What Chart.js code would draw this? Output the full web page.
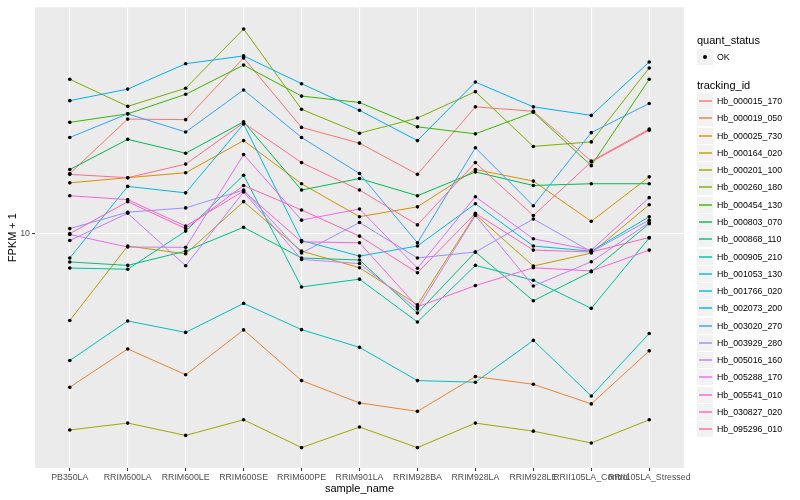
<!doctype html>
<html>
<head>
<meta charset="utf-8">
<title>FPKM + 1 / sample_name</title>
<script src="https://cdn.jsdelivr.net/npm/chart.js@4.4.0/dist/chart.umd.min.js"></script>
<style>
  body { margin: 0; background: #ffffff; }
  #wrap { position: relative; width: 800px; height: 500px; font-family: "Liberation Sans", Arial, Helvetica, sans-serif; }
  #legend { position: absolute; left: 0; top: 0; width: 800px; height: 500px; pointer-events: none; }
  .ttl { position: absolute; left: 697px; font-size: 11px; line-height: 14px; height: 14px; color: #000; white-space: nowrap; }
  .key { position: absolute; left: 697px; width: 16px; height: 16px; background: #F2F2F2; }
  .key i { position: absolute; left: 2px; width: 13px; top: 7px; height: 2px; opacity: 0.7; }
  .key b { position: absolute; left: 6px; top: 6px; width: 4px; height: 4px; border-radius: 50%; background: #000; }
  .lab { position: absolute; left: 717px; font-size: 8.8px; line-height: 10px; height: 10px; color: #000; white-space: nowrap; }
</style>
</head>
<body>
<div id="wrap">
  <canvas id="chart" width="800" height="500"></canvas>
  <div id="legend"></div>
</div>
<script>
// categories on the x axis
var sampleNames = ['PB350LA', 'RRIM600LA', 'RRIM600LE', 'RRIM600SE', 'RRIM600PE', 'RRIM901LA',
  'RRIM928BA', 'RRIM928LA', 'RRIM928LE', 'RRII105LA_Control', 'RRII105LA_Stressed'];

var trackingIds = ['Hb_000015_170', 'Hb_000019_050', 'Hb_000025_730', 'Hb_000164_020', 'Hb_000201_100',
  'Hb_000260_180', 'Hb_000454_130', 'Hb_000803_070', 'Hb_000868_110', 'Hb_000905_210',
  'Hb_001053_130', 'Hb_001766_020', 'Hb_002073_200', 'Hb_003020_270', 'Hb_003929_280',
  'Hb_005016_160', 'Hb_005288_170', 'Hb_005541_010', 'Hb_030827_020', 'Hb_095296_010'];

var quantStatus = ['OK'];
var yTickValues = [10];

// FPKM + 1, one array per tracking_id, in sampleNames order
var hb_000015_170 = [15.9, 24.2, 24.1, 38.8, 22.7, 20.1, 15.8, 26.6, 25.7, 17.5, 22.4];
var hb_000019_050 = [3.06, 4.11, 3.37, 4.76, 3.22, 2.71, 2.54, 3.32, 3.13, 2.69, 4.05];
var hb_000025_730 = [14.8, 15.4, 16.0, 20.5, 14.7, 11.4, 12.3, 16.4, 15.0, 11.0, 15.5];
var hb_000164_020 = [5.12, 9.09, 8.56, 12.8, 8.74, 7.69, 5.78, 11.6, 7.79, 8.61, 12.5];
var hb_000201_100 = [2.20, 2.32, 2.11, 2.38, 1.92, 2.25, 1.92, 2.32, 2.18, 1.99, 2.38];
var hb_000260_180 = [32.9, 26.7, 30.7, 48.5, 26.1, 21.7, 24.4, 29.9, 19.6, 20.3, 35.9];
var hb_000454_130 = [23.6, 25.2, 29.3, 36.7, 28.9, 27.5, 22.8, 21.6, 25.5, 16.9, 32.9];
var hb_000803_070 = [16.4, 20.7, 18.6, 23.7, 14.0, 15.3, 13.4, 16.1, 14.5, 14.7, 14.7];
var hb_000868_110 = [8.04, 7.83, 8.74, 10.5, 8.29, 8.16, 5.42, 8.68, 5.96, 7.46, 10.8];
var hb_000905_210 = [7.67, 7.60, 10.2, 15.7, 6.63, 7.04, 5.06, 7.83, 6.98, 5.62, 9.68];
var hb_001053_130 = [3.76, 5.10, 4.67, 5.84, 4.77, 4.16, 3.22, 3.18, 4.39, 2.86, 4.63];
var hb_001766_020 = [8.29, 14.4, 13.7, 23.3, 9.49, 8.41, 9.09, 12.6, 9.09, 8.74, 11.4];
var hb_002073_200 = [27.9, 30.5, 37.1, 39.4, 31.8, 25.9, 20.5, 32.2, 26.6, 24.9, 37.6];
var hb_003020_270 = [21.0, 25.2, 21.9, 30.3, 21.0, 15.9, 9.32, 19.4, 12.4, 21.8, 27.3];
var hb_003929_280 = [10.4, 11.8, 12.2, 14.0, 8.61, 10.9, 8.29, 8.68, 11.2, 8.70, 11.1];
var hb_005016_160 = [9.49, 11.7, 7.81, 13.8, 8.20, 7.94, 5.59, 11.5, 6.68, 8.05, 10.9];
var hb_005288_170 = [9.94, 9.02, 9.00, 18.4, 11.1, 12.1, 7.66, 13.3, 9.61, 8.81, 13.2];
var hb_005541_010 = [13.4, 13.0, 10.6, 13.9, 9.39, 9.32, 5.69, 6.70, 7.69, 7.50, 8.81];
var hb_030827_020 = [10.0, 12.8, 10.4, 14.5, 12.0, 9.81, 7.40, 11.7, 8.81, 8.68, 9.71];
var hb_095296_010 = [15.8, 15.4, 17.1, 23.5, 17.3, 14.0, 10.7, 17.3, 11.5, 17.4, 22.2];

var seriesValues = [hb_000015_170, hb_000019_050, hb_000025_730, hb_000164_020, hb_000201_100,
  hb_000260_180, hb_000454_130, hb_000803_070, hb_000868_110, hb_000905_210,
  hb_001053_130, hb_001766_020, hb_002073_200, hb_003020_270, hb_003929_280,
  hb_005016_160, hb_005288_170, hb_005541_010, hb_030827_020, hb_095296_010];

// ggplot default hue palette for 20 levels
var hueColours = ['#F8766D', '#EA8331', '#D89000', '#C09B00', '#A3A500', '#7CAE00', '#39B600', '#00BB4E',
  '#00BF7D', '#00C1A3', '#00BFC4', '#00BAE0', '#00B0F6', '#35A2FF', '#9590FF', '#C77CFF',
  '#E76BF3', '#FA62DB', '#FF62BC', '#FF6C91'];

var FONT = '"Liberation Sans", Arial, Helvetica, sans-serif';

function toPoints(values) {
  return values.map(function (v, i) { return { x: i, y: v }; });
}

var datasets = [];
trackingIds.forEach(function (id, k) {
  datasets.push({
    type: 'line', label: id, data: toPoints(seriesValues[k]),
    borderColor: hueColours[k], borderWidth: 1, pointRadius: 0, fill: false, tension: 0,
    order: 100 - k
  });
});
trackingIds.forEach(function (id, k) {
  datasets.push({
    type: 'scatter', label: id + ' ' + quantStatus[0], data: toPoints(seriesValues[k]),
    pointRadius: 1.8, pointBackgroundColor: '#000000', pointBorderWidth: 0, showLine: false,
    order: 0
  });
});

var panelBackground = {
  id: 'panelBackground',
  beforeDraw: function (chart) {
    var a = chart.chartArea, ctx = chart.ctx;
    ctx.save();
    ctx.fillStyle = '#EBEBEB';
    ctx.fillRect(a.left, a.top, a.right - a.left, a.bottom - a.top);
    ctx.restore();
  }
};

var ctx = document.getElementById('chart').getContext('2d');
var chart = new Chart(ctx, {
  data: { datasets: datasets },
  options: {
    responsive: false,
    animation: false,
    devicePixelRatio: 1,
    layout: { padding: { left: 0, top: 5, right: 116, bottom: 0 } },
    plugins: { legend: { display: false }, tooltip: { enabled: false } },
    scales: {
      x: {
        type: 'linear', min: -0.6, max: 10.6, bounds: 'data',
        afterBuildTicks: function (s) { s.ticks = sampleNames.map(function (n, i) { return { value: i }; }); },
        afterFit: function (s) { s.height = 32; },
        ticks: {
          autoSkip: false, maxRotation: 0, minRotation: 0, padding: 1,
          color: '#4D4D4D', font: { family: FONT, size: 8.8 },
          callback: function (v) { return sampleNames[v]; }
        },
        grid: { color: '#FFFFFF', lineWidth: 1.1, tickColor: '#333333', tickLength: 3, tickWidth: 1 },
        border: { display: false },
        title: { display: true, text: 'sample_name', color: '#000000', font: { family: FONT, size: 11 }, padding: { top: 0, bottom: 4.5 } }
      },
      y: {
        type: 'logarithmic', min: 1.6406, max: 57.33, bounds: 'data',
        afterBuildTicks: function (s) { s.ticks = yTickValues.map(function (v) { return { value: v }; }); },
        afterFit: function (s) { s.width = 35; },
        ticks: {
          padding: 2, color: '#4D4D4D', font: { family: FONT, size: 8.8 },
          callback: function (v) { return String(v); }
        },
        grid: { color: '#FFFFFF', lineWidth: 1.1, tickColor: '#333333', tickLength: 3, tickWidth: 1 },
        border: { display: false },
        title: { display: true, text: 'FPKM + 1', color: '#000000', font: { family: FONT, size: 11 }, padding: { top: 6, bottom: 0 } }
      }
    }
  },
  plugins: [panelBackground]
});

// legend on the right, built from the same names
var legend = document.getElementById('legend');
function addEl(cls, top, text) {
  var d = document.createElement('div');
  d.className = cls;
  d.style.top = Math.round(top) + 'px';
  if (text) d.textContent = text;
  legend.appendChild(d);
  return d;
}
addEl('ttl', 33, 'quant_status');
var okKey = addEl('key', 49);
okKey.appendChild(document.createElement('b'));
addEl('lab', 52, quantStatus[0]);
addEl('ttl', 77.5, 'tracking_id');
trackingIds.forEach(function (id, k) {
  var cy = 101 + k * 17.28;
  var key = addEl('key', cy - 8);
  var line = document.createElement('i');
  line.style.background = hueColours[k];
  key.appendChild(line);
  addEl('lab', cy - 5, id);
});
</script>
</body>
</html>
